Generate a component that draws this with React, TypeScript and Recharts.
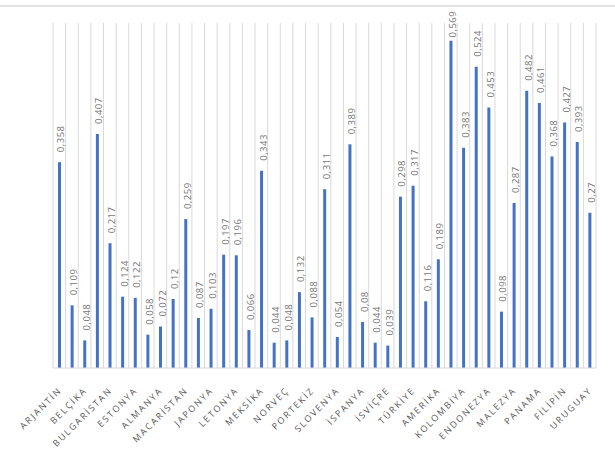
import React from "react";
import { BarChart, Bar, XAxis, YAxis, CartesianGrid, LabelList } from "recharts";

const countries = [
  "ARJANTİN", "AVUSTURYA", "BELÇİKA", "BREZİLYA", "BULGARİSTAN", "ÇEKYA", "ESTONYA", "FİNLANDİYA",
  "ALMANYA", "YUNANİSTAN", "MACARİSTAN", "İTALYA", "JAPONYA", "KORE", "LETONYA", "LİTVANYA",
  "MEKSİKA", "HOLLANDA", "NORVEÇ", "POLONYA", "PORTEKİZ", "SLOVAKYA", "SLOVENYA", "ŞİLİ",
  "İSPANYA", "İSVEÇ", "İSVİÇRE", "TAYVAN", "TÜRKİYE", "İNGİLTERE", "AMERİKA", "DOMİNİK CUMHURİYETİ",
  "KOLOMBİYA", "KOSTA RİKA", "ENDONEZYA", "KAZAKİSTAN", "MALEZYA", "FAS", "PANAMA", "PERU",
  "FİLİPİN", "TAYLAND", "URUGUAY",
];

const values = [
  0.358, 0.109, 0.048, 0.407, 0.217, 0.124, 0.122, 0.058,
  0.072, 0.12, 0.259, 0.087, 0.103, 0.197, 0.196, 0.066,
  0.343, 0.044, 0.048, 0.132, 0.088, 0.311, 0.054, 0.389,
  0.08, 0.044, 0.039, 0.298, 0.317, 0.116, 0.189, 0.569,
  0.383, 0.524, 0.453, 0.098, 0.287, 0.482, 0.461, 0.368,
  0.427, 0.393, 0.27,
];

const data = countries.map((name, i) => ({ name, value: values[i] }));

const FONT = "'Open Sans', 'DejaVu Sans', sans-serif";

const fmt = (v: number) => String(v).replace(".", ",");

const Tick = (props: any) => {
  const { x, y, payload } = props;
  const tx = x + 3;
  const ty = y + 15;
  return (
    <text
      x={tx}
      y={ty}
      transform={`rotate(-45 ${tx} ${ty})`}
      textAnchor="end"
      fontSize={9}
      fontFamily={FONT}
      letterSpacing={1.8}
      style={{ fill: "#595959" }}
    >
      {payload.value}
    </text>
  );
};

const ValueLabel = (props: any) => {
  const { x, y, width, value } = props;
  const label = fmt(value);
  const approxLen = label.length * 5.3;
  const cx = x + width / 2 + 1.5;
  const cy = Math.max(y - 10, 11 + approxLen);
  return (
    <text
      x={cx}
      y={cy}
      transform={`rotate(-90 ${cx} ${cy})`}
      textAnchor="start"
      dominantBaseline="central"
      fontSize={9.5}
      fontFamily={FONT}
      letterSpacing={0.5}
      style={{ fill: "#767676" }}
    >
      {label}
    </text>
  );
};

const gridGen = (args: any) => {
  const { offset } = args;
  const n = countries.length;
  const step = offset.width / n;
  return Array.from({ length: n + 1 }, (_, i) => offset.left + i * step);
};

export default function App() {
  return (
    <div style={{ position: "absolute", left: 0, top: 0, width: 615, height: 458, background: "#fff" }}>
      <div style={{ position: "absolute", left: 0, top: 5, width: 615, height: 2, background: "#e3e3e3" }} />
      <BarChart
        width={615}
        height={458}
        data={data}
        margin={{ top: 23, right: 19, left: 53, bottom: 0 }}
        barCategoryGap={0}
      >
        <CartesianGrid
          horizontal={false}
          vertical={true}
          stroke="#d9d9d9"
          verticalCoordinatesGenerator={gridGen}
        />
        <XAxis
          dataKey="name"
          interval={1}
          tickLine={false}
          axisLine={{ stroke: "#d9d9d9" }}
          height={90}
          tick={<Tick />}
          padding={{ left: 0, right: 0 }}
        />
        <YAxis hide domain={[0, 0.6]} />
        <Bar dataKey="value" fill="#4472C4" barSize={3} isAnimationActive={false}>
          <LabelList dataKey="value" content={<ValueLabel />} />
        </Bar>
      </BarChart>
    </div>
  );
}
